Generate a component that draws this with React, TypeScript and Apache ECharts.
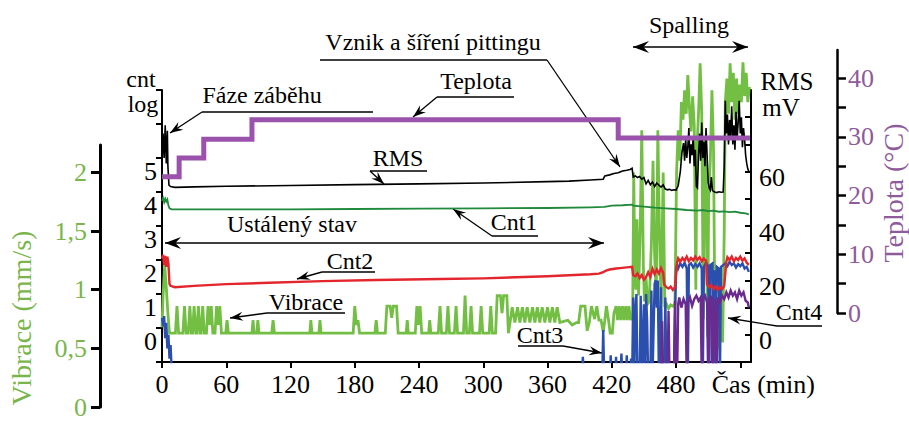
import React, { useEffect, useRef } from 'react';
import * as echarts from 'echarts';

const SERIF = "'Liberation Serif', 'Times New Roman', Times, serif";

// ---- axis tick values ----
const timeTicks = [0, 60, 120, 180, 240, 300, 360, 420, 480, 540];
const cntLabels = [0, 1, 2, 3, 4, 5];
const rmsLabels = [0, 20, 40, 60];
const vibLabels = [0, 0.5, 1, 1.5, 2];
const tempTicks = [0, 5, 10, 15, 20, 25, 30, 35, 40];
const tempLabels = [0, 10, 20, 30, 40];

// ---- data: [time (min), value] ----
const teplota: [number, number][] = [
  [0, 23.2], [16, 23.2], [16, 26.4], [39, 26.4], [39, 29.6], [84, 29.6], [84, 32.9],
  [426, 32.9], [426, 29.8], [549, 29.8],
];

const rms: [number, number][] = [
  [0, 64], [1, 74], [2, 65], [3, 77], [4, 63], [5, 75], [5.5, 62], [6.5, 55], [8, 54.5], [12, 54.2],
  [30, 54.4], [60, 54.6], [120, 54.9], [180, 55.2], [240, 55.5], [300, 55.8], [360, 56.3], [380, 56.5],
  [400, 56.9], [412, 57.2], [413.5, 58.4], [418, 58.8], [422, 59.3], [426, 59.6], [430, 60.2], [434, 60.5],
  [437, 60.8], [439, 61.2], [440, 58], [442, 58.4], [444, 57.8], [446, 58.2], [448, 57.2], [450, 57.8],
  [452, 55.5], [454, 56.8], [456, 55.2], [458, 56.2], [460, 54.5], [462, 55.8], [464, 55], [466, 54.3],
  [468, 55.1], [470, 53.6], [472, 53.3], [474, 53.5], [476, 53.1], [478, 53.3], [480, 53.2], [482, 54.8],
  [484, 60], [485.5, 67], [487, 70.5], [488, 64], [489, 72], [490, 65], [491, 69], [492, 76], [493, 63],
  [494, 70], [495, 66], [496, 73], [497, 62], [498, 68], [499, 54.5], [500, 54], [501, 66], [502, 74],
  [503, 64], [504, 78], [505, 65], [506, 71], [507, 62], [508, 76], [509, 66], [510, 56], [511, 54],
  [512, 53.2], [513, 58], [514, 53], [516, 52.5], [518, 52.3], [520, 52.6], [522, 52.4], [524, 52.5],
  [525, 62], [526, 86], [527, 74], [528, 81], [529, 70], [530, 79], [531, 73], [532, 84], [533, 70],
  [534, 77], [535, 68], [536, 82], [537, 72], [538, 78], [539, 86], [540, 74], [541, 80], [542, 69],
  [543, 76], [544, 72], [545, 66], [546, 63], [547, 61], [548, 60],
];

const cnt1: [number, number][] = [
  [0, 3.74], [1, 3.82], [2, 3.7], [3, 3.8], [4, 3.72], [5, 3.78], [6, 3.6], [7, 3.52], [9, 3.49],
  [60, 3.49], [120, 3.49], [180, 3.5], [240, 3.51], [300, 3.52], [360, 3.53], [400, 3.55], [413, 3.56],
  [416, 3.58], [420, 3.6], [430, 3.61], [439, 3.63], [440, 3.6], [450, 3.57], [460, 3.54], [470, 3.52],
  [480, 3.5], [490, 3.47], [500, 3.45], [505, 3.47], [510, 3.44], [515, 3.45], [520, 3.42], [525, 3.43],
  [530, 3.41], [535, 3.42], [540, 3.39], [545, 3.37], [548, 3.34],
];

const cnt2: [number, number][] = [
  [0, 2.05], [1, 2.15], [2, 1.85], [3, 2.12], [4, 1.8], [5, 2.1], [6, 1.9], [7, 1.3], [8, 1.24], [12, 1.2],
  [30, 1.24], [60, 1.29], [100, 1.33], [150, 1.38], [200, 1.41], [260, 1.44], [300, 1.46], [360, 1.52],
  [400, 1.58], [408, 1.6], [412, 1.64], [414, 1.68], [418, 1.72], [424, 1.75], [430, 1.77], [436, 1.79],
  [439, 1.8], [440, 1.55], [442, 1.52], [444, 1.6], [446, 1.47], [448, 1.56], [450, 1.42], [452, 1.5],
  [454, 1.64], [456, 1.5], [458, 1.74], [460, 1.58], [462, 1.72], [464, 1.6], [466, 1.76], [468, 1.62],
  [469, 1.28], [471, 1.2], [473, 1.16], [475, 1.22], [477, 1.12], [479, 1.2], [481, 1.92], [482, 2.05],
  [484, 1.95], [486, 2.06], [488, 1.98], [490, 2.1], [492, 1.96], [494, 2.06], [496, 1.99], [498, 2.1],
  [500, 2.0], [502, 2.08], [504, 1.96], [506, 2.04], [508, 1.98], [509, 1.28], [511, 1.2], [513, 1.26],
  [515, 1.15], [517, 1.22], [519, 1.12], [521, 1.2], [523, 1.14], [525, 1.24], [527, 1.95], [528, 2.08],
  [530, 2.0], [532, 2.1], [534, 1.96], [536, 2.06], [538, 2.0], [540, 2.1], [542, 1.98], [544, 2.05],
  [546, 1.92], [548, 1.86],
];

// -1.5 = zero count (log below axis)
const cnt3: [number, number][] = [
  [0, 0.3], [1, 0.05], [2, 0.35], [3, -0.3], [4, 0.15], [5, -0.6], [6, -0.2], [7, -0.9], [8, -0.5],
  [9, -1.2], [10, -1.5], [392, -1.5], [393, -0.85], [394, -1.5], [411, -1.5], [412, -0.06], [413, -1.5],
  [418, -1.5], [419, -0.8], [420, -1.5], [423, -1.5], [424, -0.85], [425, -1.5], [428, -1.5], [429, -0.75],
  [430, -1.5], [433, -1.5], [434, -0.8], [435, -1.5], [437, -1.5], [438, -0.9], [439, -1.5],
  [440, 0.9], [441, -1.5], [442, 0.5], [443, 1.0], [444, -1.5], [446, -1.5], [447, 0.95], [448, -1.5],
  [450, 0.7], [451, -1.5], [452, 1.0], [453, 0.2], [454, -1.5], [456, -1.5], [457, 1.1], [458, -1.5],
  [460, 1.3], [461, 1.4], [462, 0.6], [463, 1.4], [464, -1.5], [466, 1.2], [467, -1.5], [469, -1.5],
  [470, 0.9], [471, -1.5], [474, -1.5], [476, -1.5], [478, -1.5], [479, 0.3], [480, 1.7], [481, 1.85],
  [482, 1.75], [484, 1.9], [486, 1.8], [488, 1.92], [490, 1.75], [491, -1.5], [492, 1.85], [494, 1.9],
  [496, 1.78], [498, 1.88], [500, 1.8], [502, 1.9], [504, 1.75], [505, -1.5], [506, 1.8], [508, 1.92],
  [510, 1.82], [511, -1.5], [512, 1.85], [514, 1.9], [515, -1.5], [516, 1.7], [517, -1.5], [518, 1.8],
  [520, 1.75], [521, -1.5], [522, 1.8], [524, 1.85], [526, 1.9], [528, 1.82], [530, 1.95], [532, 1.85],
  [534, 1.9], [536, 1.78], [538, 1.88], [540, 1.82], [542, 1.9], [544, 1.75], [546, 1.8], [548, 1.65],
];

const cnt4: [number, number][] = [
  [466, -1.5], [467, 0.2], [468, -1.5], [472, -1.5], [473, 0.5], [474, -1.5], [478, -1.5], [479, 0.8],
  [480, -1.5], [481, -1.5], [482, 0.7], [483, 0.9], [485, 0.6], [487, 0.85], [489, 0.7], [490, -1.5],
  [491, 0.75], [493, 0.9], [495, 0.65], [497, 0.85], [499, 0.95], [501, 0.8], [503, 0.9], [504, -1.5],
  [505, 0.85], [507, 0.95], [509, 0.75], [510, -1.5], [511, 0.8], [513, 0.95], [514, -1.5], [516, 0.85],
  [518, -1.5], [519, 0.9], [521, 0.75], [523, 0.95], [525, 0.85], [527, 1.05], [529, 0.9], [531, 1.1],
  [533, 0.95], [535, 1.05], [537, 0.85], [539, 1.1], [541, 0.95], [543, 1.05], [545, 0.8], [547, 0.75],
  [548, 0.6],
];

const vibrace: [number, number][] = [
  [0, 0.68], [1, 0.95], [2.5, 1.21], [4, 1.02], [5.5, 0.8], [7, 0.63],
  [12.5, 0.63], [14, 0.86], [15.5, 0.63], [19.5, 0.63], [21, 0.86], [22.5, 0.63],
  [24.5, 0.63], [26, 0.86], [27.5, 0.63], [28.5, 0.63], [30, 0.86], [31.5, 0.63],
  [32.5, 0.63], [34, 0.86], [35.5, 0.63], [36.5, 0.63], [38, 0.86], [39.5, 0.63],
  [41.5, 0.63], [43, 0.86], [44.5, 0.7], [46, 0.86], [47.5, 0.63],
  [49.5, 0.63], [51, 0.86], [52.5, 0.7], [54, 0.86], [55.5, 0.63],
  [59.5, 0.63], [60.7, 0.74], [62, 0.63],
  [84, 0.63], [85, 0.74], [86, 0.63], [88.5, 0.63], [89.5, 0.74], [90.5, 0.63],
  [102.5, 0.63], [103.7, 0.74], [105, 0.63], [138, 0.63], [139, 0.74], [140, 0.63],
  [146.5, 0.63], [147.5, 0.74], [148.5, 0.63],
  [178.5, 0.63], [180, 0.86], [181.5, 0.7], [183, 0.74], [184.5, 0.63],
  [198.8, 0.63], [200, 0.74], [201.2, 0.63],
  [208.5, 0.63], [210, 0.86], [213, 0.86], [214.5, 0.76], [216, 0.86], [219, 0.86], [220.5, 0.63],
  [228, 0.63], [229, 0.74], [230, 0.63],
  [236.5, 0.63], [238, 0.86], [239.5, 0.7], [241, 0.86], [242.5, 0.63],
  [249, 0.63], [250, 0.74], [251, 0.63], [258, 0.63], [259.6, 0.86], [261, 0.63],
  [265.5, 0.63], [267, 0.86], [268.5, 0.63], [273, 0.63], [274.6, 0.86], [276, 0.63],
  [281.5, 0.63], [283, 0.95], [284.5, 0.63], [287, 0.63], [288.6, 0.86], [290, 0.63],
  [296.5, 0.63], [298, 0.86], [299.5, 0.63], [305.5, 0.63], [307, 0.86], [308.5, 0.63],
  [311.5, 0.63], [313, 0.95], [316, 0.95], [317.5, 0.8], [319, 0.95], [322, 0.95], [323.5, 0.63],
  [325, 0.72], [327, 0.85], [329.5, 0.72], [332, 0.85], [334.2, 0.72], [336.5, 0.85], [338.8, 0.72],
  [341, 0.85], [343.5, 0.72], [346, 0.85], [348.2, 0.72], [350.5, 0.85], [352.8, 0.72], [355, 0.85],
  [357.5, 0.72], [360, 0.85], [362.2, 0.72], [364.5, 0.85], [366.8, 0.72], [369, 0.85], [371.5, 0.72],
  [375, 0.73], [379, 0.74], [383, 0.7], [387, 0.72], [389, 0.72], [391, 0.86], [395, 0.86], [397, 0.65],
  [399, 0.72], [401, 0.86], [404, 0.75], [406, 0.86], [408, 0.74], [410, 0.74], [412, 0.64], [413.5, 0.74],
  [415, 0.86], [417, 0.74], [418.5, 0.63], [420.5, 0.63], [422, 0.8], [424, 0.86], [425.5, 0.74],
  [427, 0.86], [428.5, 0.74], [430, 0.86], [431.5, 0.74], [433, 0.86], [434.5, 0.74], [436, 0.86],
  [437.5, 0.74],
  [439.5, 0.8], [440.5, 2.0], [441.5, 1.2], [442.5, 1.0], [443.5, 1.6], [445, 0.95], [446.5, 1.5],
  [448, 2.36], [449.5, 1.2], [450.5, 0.9], [452, 1.1], [453.5, 0.88], [455, 0.9], [457, 1.4], [458.5, 2.1],
  [460, 1.3], [461.5, 0.95], [463, 2.36], [464.5, 1.5], [466, 0.88], [468, 2.0], [469.5, 0.85], [471, 0.88],
  [473, 0.84], [475, 0.87], [477, 0.86], [479, 0.88], [480.5, 2.0], [482, 2.36], [483.5, 2.1], [485, 2.6],
  [486.5, 2.45], [488, 2.7], [489.5, 2.5], [491, 2.83], [492.5, 2.55], [494, 2.35], [495.5, 2.65],
  [497, 2.4], [498.5, 1.0], [499.5, 2.2], [501, 2.5], [502.5, 2.93], [504, 2.5], [505.5, 0.75],
  [506.5, 2.3], [508, 2.0], [509.5, 0.6], [510.5, 1.8], [512, 2.1], [513.5, 2.7], [515, 2.2],
  [516.5, 0.5], [518, 0.45], [519.5, 0.8], [520.5, 0.5], [522, 0.85], [523.5, 0.55], [525, 1.5],
  [526, 2.6], [527.5, 2.8], [529, 2.5], [530.5, 2.93], [532, 2.6], [533.5, 2.85], [535, 2.45],
  [536.5, 2.8], [538, 2.5], [539.5, 2.75], [541, 2.6], [542.5, 2.94], [544, 2.65], [545.5, 2.85],
  [547, 2.6], [548.5, 2.73],
];

// ---- colours ----
const C_VIB = '#72bf44';
const C_VIB_TXT = '#7ab54c';
const C_TEMP = '#9a52ad';
const C_TEMP_TXT = '#8e5b9b';
const C_CNT1 = '#1f8a3b';
const C_CNT2 = '#e3262d';
const C_CNT3 = '#2b4fae';
const C_CNT4 = '#6b2a8e';

function arrowHead(x1: number, y1: number, x2: number, y2: number, len = 13, half = 4.5) {
  const dx = x2 - x1, dy = y2 - y1;
  const L = Math.hypot(dx, dy) || 1;
  const ux = dx / L, uy = dy / L;
  const bx = x2 - ux * len, by = y2 - uy * len;
  const nx = x2 - ux * len * 0.65, ny = y2 - uy * len * 0.65;
  return {
    type: 'polygon', silent: true,
    shape: { points: [[x2, y2], [bx - uy * half, by + ux * half], [nx, ny], [bx + uy * half, by - ux * half]] },
    style: { fill: '#000' },
  };
}

function buildGraphics() {
  const els: any[] = [];
  const text = (s: string, x: number, y: number, size = 24, color = '#000', rot = 0) =>
    els.push({
      type: 'text', x, y, rotation: rot, silent: true,
      style: { text: s, fontFamily: SERIF, fontSize: size, fill: color, align: 'center', verticalAlign: 'middle' },
    });
  const line = (x1: number, y1: number, x2: number, y2: number, w = 1.3) =>
    els.push({ type: 'line', silent: true, shape: { x1, y1, x2, y2 }, style: { stroke: '#000', lineWidth: w } });
  const arrow = (x1: number, y1: number, x2: number, y2: number) => {
    line(x1, y1, x2, y2);
    els.push(arrowHead(x1, y1, x2, y2));
  };
  const dbl = (x1: number, y: number, x2: number) => {
    line(x1, y, x2, y, 1.5);
    els.push(arrowHead(x2, y, x1, y, 16, 6));
    els.push(arrowHead(x1, y, x2, y, 16, 6));
  };

  text('Fáze záběhu', 262, 95); line(202, 112, 373, 112); arrow(202, 112, 170, 133);
  text('Teplota', 476, 81); line(437, 97, 514, 97); arrow(437, 97, 413, 117);
  text('Vznik a šíření pittingu', 433, 42); line(320, 60, 547, 60); arrow(547, 60, 620, 167);
  text('RMS', 398, 158); line(370, 171, 427, 171); arrow(370, 171, 384, 184);
  text('Cnt1', 514, 222); line(492, 236, 538, 236); arrow(492, 236, 453, 209);
  text('Ustálený stav', 292, 224); dbl(165, 243, 604);
  text('Cnt2', 350, 261); line(322, 272, 375, 272); arrow(322, 272, 297, 279);
  text('Vibrace', 306, 302); line(267, 313, 345, 313); arrow(267, 313, 230, 318);
  text('Cnt3', 540, 335); line(518, 346, 563, 346); arrow(563, 346, 602, 353);
  text('Cnt4', 799, 312); line(777, 326, 822, 326); arrow(777, 326, 728, 318);
  text('Spalling', 689, 25); dbl(633, 47, 748);

  text('cnt', 141, 79, 24); text('log', 143, 104, 24);
  text('RMS', 787, 81, 25); text('mV', 781, 107, 25);
  text('Vibrace (mm/s)', 21, 318, 28, C_VIB_TXT, Math.PI / 2);
  text('Teplota (°C)', 893, 193, 28, C_TEMP_TXT, Math.PI / 2);
  return els;
}

export default function App() {
  const ref = useRef<HTMLDivElement>(null);
  useEffect(() => {
    if (!ref.current) return;
    const chart = echarts.init(ref.current, undefined, { renderer: 'svg' });
    const gridBox = { left: 162, right: 158 };
    const hiddenX = (gridIndex: number) => ({ type: 'value', gridIndex, min: 0, max: 550, show: false });
    const line = (name: string, data: any, color: string, width: number, xi: number, yi: number, extra: any = {}) => ({
      name, type: 'line', data, xAxisIndex: xi, yAxisIndex: yi, showSymbol: false, symbol: 'none',
      lineStyle: { color, width, join: 'miter' }, itemStyle: { color }, silent: true, ...extra,
    });
    const labelFont = { fontFamily: SERIF, fontSize: 26 };
    const option: any = {
      animation: false,
      backgroundColor: '#fff',
      grid: [
        { ...gridBox, top: 90, bottom: 69 },
        { ...gridBox, top: 145, bottom: 24 },
        { ...gridBox, top: 50, bottom: 118 },
      ],
      xAxis: [
        {
          type: 'value', gridIndex: 0, min: 0, max: 550, interval: 60,
          axisLine: { onZero: false, lineStyle: { color: '#000', width: 2 } },
          axisTick: { length: 6, lineStyle: { color: '#000', width: 2 }, customValues: timeTicks },
          axisLabel: {
            customValues: timeTicks, margin: 9, color: '#000', ...labelFont,
            formatter: (v: number) => (v === 540 ? '{c|Čas (min)}' : '{n|' + v + '}'),
            rich: {
              c: { ...labelFont, color: '#000', padding: [0, 0, 0, 46] },
              n: { ...labelFont, color: '#000' },
            },
          },
          splitLine: { show: false },
        },
        hiddenX(1),
        hiddenX(2),
      ],
      yAxis: [
        {
          type: 'value', gridIndex: 0, position: 'left', min: -1, max: 7, interval: 1,
          axisLine: { show: true, onZero: false, lineStyle: { color: '#000', width: 2 } },
          axisTick: { show: true, length: 6, lineStyle: { color: '#000', width: 2 } },
          axisLabel: {
            customValues: cntLabels, margin: 5, color: '#000', ...labelFont,
            formatter: (v: number) => '{a|' + v + '}',
            rich: { a: { ...labelFont, color: '#000', padding: [26, 0, 0, 0] } },
          },
          splitLine: { show: false },
        },
        {
          type: 'value', gridIndex: 0, position: 'right', min: -10, max: 90, interval: 10,
          axisLine: { show: true, onZero: false, lineStyle: { color: '#000', width: 2 } },
          axisTick: { show: true, inside: true, length: 6, lineStyle: { color: '#000', width: 2 } },
          axisLabel: {
            customValues: rmsLabels, margin: 8, color: '#000', ...labelFont,
            formatter: (v: number) => '{a|' + v + '}',
            rich: { a: { ...labelFont, color: '#000', padding: [12, 0, 0, 0] } },
          },
          splitLine: { show: false },
        },
        {
          type: 'value', gridIndex: 1, position: 'left', offset: 62, min: 0, max: 2.234,
          axisLine: { show: true, onZero: false, lineStyle: { color: '#000', width: 3 } },
          axisTick: { show: true, length: 9, customValues: vibLabels, lineStyle: { color: '#000', width: 3 } },
          axisLabel: {
            customValues: vibLabels, margin: 13, color: C_VIB_TXT, ...labelFont,
            formatter: (v: number) => String(v).replace('.', ','),
          },
          splitLine: { show: false },
        },
        {
          type: 'value', gridIndex: 2, position: 'right', offset: 86, min: 0, max: 44.8,
          axisLine: { show: true, onZero: false, lineStyle: { color: '#000', width: 2.5 } },
          axisTick: { show: true, length: 9, customValues: tempTicks, lineStyle: { color: '#000', width: 2.5 } },
          axisLabel: {
            customValues: tempLabels, margin: 11, color: C_TEMP_TXT, ...labelFont,
          },
          splitLine: { show: false },
        },
      ],
      series: [
        line('Vibrace', vibrace, C_VIB, 2.8, 1, 2, { clip: false }),
        line('Cnt3', cnt3, C_CNT3, 2.4, 0, 0),
        line('Cnt2', cnt2, C_CNT2, 2.4, 0, 0),
        line('Cnt4', cnt4, C_CNT4, 2.4, 0, 0),
        line('Cnt1', cnt1, C_CNT1, 1.8, 0, 0),
        line('RMS', rms, '#000', 1.6, 0, 1),
        line('Teplota', teplota, C_TEMP, 5, 2, 3),
      ],
      graphic: buildGraphics(),
    };
    chart.setOption(option);
    return () => chart.dispose();
  }, []);
  return (
    <div
      ref={ref}
      style={{ position: 'fixed', left: 0, top: 0, width: 909, height: 431, background: '#fff' }}
    />
  );
}
